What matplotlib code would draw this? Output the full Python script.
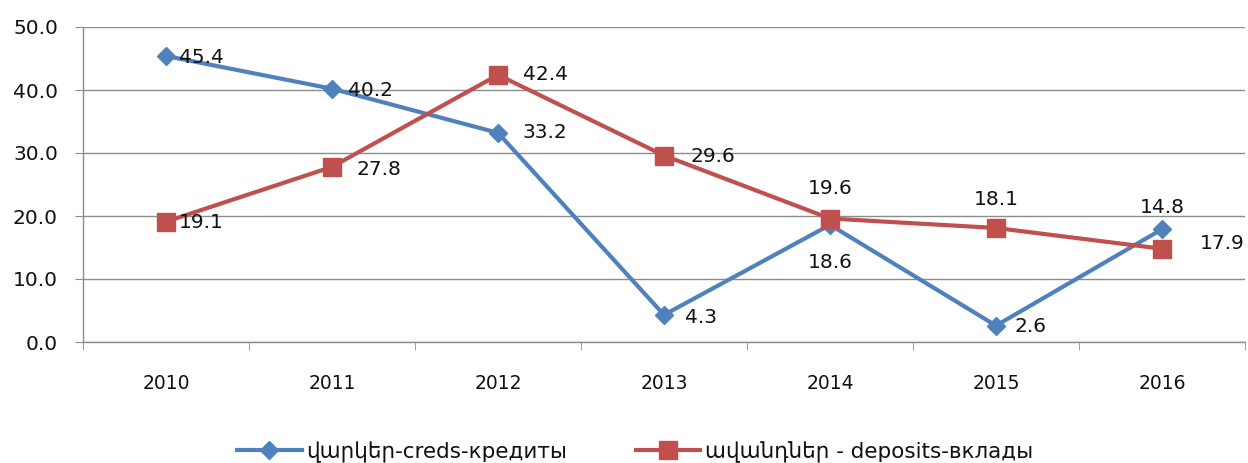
import matplotlib
matplotlib.use("Agg")
import matplotlib.pyplot as plt
import numpy as np

years = ["2010", "2011", "2012", "2013", "2014", "2015", "2016"]
credits = [45.4, 40.2, 33.2, 4.3, 18.6, 2.6, 17.9]
deposits = [19.1, 27.8, 42.4, 29.6, 19.6, 18.1, 14.8]
credits_label = "վարկեր-creds-кредиты"
deposits_label = "ավանդներ - deposits-вклады"

plt.rcParams['font.family'] = ['DejaVu Sans']
blue = "#4F81BD"
red = "#C0504D"
grid_c = "#8C8C8C"
txt_c = "#111111"

fig = plt.figure(figsize=(12.48, 4.63), dpi=100)
ax = fig.add_axes([83/1248, 121/463, (1245-83)/1248, (342-27)/463])

x = np.arange(len(years))
ax.plot(x, credits, color=blue, lw=3, marker="D", ms=9.5, label=credits_label, zorder=3)
ax.plot(x, deposits, color=red, lw=3, marker="s", ms=13, label=deposits_label, zorder=3)

ax.set_xlim(-0.5, len(years) - 0.5)
ax.set_ylim(0, 50)
ax.set_yticks(np.arange(0, 51, 10))
ax.set_yticklabels([f"{v:.1f}" for v in np.arange(0, 51, 10)])
ax.set_xticks(x)
ax.set_xticklabels(years)
ax.set_xticks(np.arange(-0.5, len(years), 1), minor=True)
ax.tick_params(axis="x", which="major", length=0, pad=23, labelsize=13.5, colors=txt_c)
ax.tick_params(axis="x", which="minor", length=6, color=grid_c, direction="out")
ax.tick_params(axis="y", length=6, color=grid_c, labelsize=14.5, pad=12, labelcolor=txt_c)
ax.yaxis.grid(True, color=grid_c, lw=1)
ax.set_axisbelow(True)
for s in ["top", "right"]:
    ax.spines[s].set_visible(False)
for s in ["left", "bottom"]:
    ax.spines[s].set_color(grid_c)
    ax.spines[s].set_linewidth(1)

fs = 14.5
k = 0.72  # px -> points at 100 dpi
# offsets in pixels (dx right, dy down), alignment
c_off = [(13, 2, "left", "center"), (16, 2, "left", "center"), (24, 0, "left", "center"),
         (21, 3, "left", "center"), (0, 38, "center", "center"), (19, 1, "left", "center"),
         (38, 14, "left", "center")]
d_off = [(13, 1, "left", "center"), (24, 3, "left", "center"), (25, 0, "left", "center"),
         (26, 1, "left", "center"), (0, -30, "center", "center"), (0, -28, "center", "center"),
         (0, -41, "center", "center")]
for vals, offs in ((credits, c_off), (deposits, d_off)):
    for i, v in enumerate(vals):
        dx, dy, ha, va = offs[i]
        ax.annotate(f"{v:.1f}", (x[i], v), xytext=(dx * k, -dy * k), textcoords="offset points",
                    ha=ha, va=va, fontsize=fs, color=txt_c, zorder=4)

leg = fig.legend(loc="center", bbox_to_anchor=(635/1248, (463-452)/463), ncol=2,
                 frameon=False, fontsize=15.5, handlelength=3.0, handletextpad=0.2,
                 columnspacing=3.2)
for t in leg.get_texts():
    t.set_color(txt_c)
fig.savefig("out.png", dpi=100)
